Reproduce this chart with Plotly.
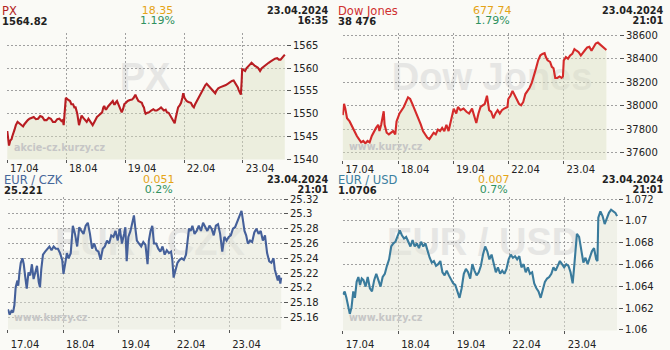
import plotly.graph_objects as go

W, H = 670, 350

# ---------------- data (time in trading days since 17.04 open) ----------------
day_labels = ["17.04", "18.04", "19.04", "22.04", "23.04"]
day_starts = [0, 1, 2, 3, 4]

px_t = [0.000,0.014,0.029,0.051,0.072,0.087,0.101,0.123,0.145,0.174,
        0.203,0.232,0.268,0.290,0.319,0.348,0.377,0.413,0.449,0.486,
        0.522,0.558,0.594,0.630,0.667,0.703,0.739,0.775,0.812,0.848,
        0.884,0.920,0.942,0.957,0.978,0.993,1.029,1.065,1.087,1.116,
        1.138,1.159,1.188,1.217,1.239,1.261,1.290,1.319,1.348,1.377,
        1.413,1.449,1.478,1.500,1.522,1.551,1.580,1.609,1.630,1.645,
        1.667,1.681,1.710,1.739,1.768,1.790,1.812,1.826,1.848,1.862,
        1.884,1.899,1.920,1.942,1.964,1.986,2.014,2.043,2.080,2.116,
        2.145,2.174,2.196,2.225,2.254,2.283,2.304,2.319,2.333,2.348,
        2.377,2.406,2.442,2.478,2.507,2.536,2.572,2.609,2.638,2.659,
        2.688,2.710,2.739,2.768,2.797,2.826,2.841,2.855,2.877,2.899,
        2.928,2.949,2.971,2.986,3.007,3.029,3.043,3.072,3.116,3.145,
        3.167,3.188,3.217,3.246,3.275,3.304,3.333,3.362,3.384,3.420,
        3.457,3.493,3.529,3.551,3.580,3.609,3.638,3.674,3.710,3.746,
        3.783,3.812,3.841,3.870,3.891,3.913,3.928,3.949,3.964,3.978,
        3.986,4.014,4.036,4.058,4.087,4.116,4.145,4.174,4.203,4.232,
        4.254,4.275,4.290,4.319,4.362,4.399,4.435,4.471,4.507,4.543,
        4.580,4.609,4.638,4.667,4.688,4.710]
px_v = [1546.2,1544.4,1543.0,1544.1,1544.4,1545.1,1545.5,1546.5,1547.5,1548.2,
        1547.9,1547.5,1547.2,1547.7,1548.2,1548.6,1548.9,1549.1,1549.3,1548.8,
        1548.9,1549.5,1549.3,1548.6,1548.6,1549.1,1548.9,1548.2,1548.2,1548.8,
        1548.9,1548.4,1548.6,1547.5,1550.3,1553.5,1553.1,1552.8,1552.1,1552.1,
        1551.4,1551.4,1550.0,1547.5,1548.6,1549.6,1549.1,1548.6,1548.2,1548.9,
        1548.2,1547.5,1548.2,1548.9,1549.3,1549.6,1550.0,1550.3,1551.4,1551.7,
        1551.0,1551.0,1551.6,1552.1,1552.4,1552.8,1552.1,1552.1,1552.6,1552.8,
        1552.1,1551.7,1551.0,1550.3,1551.0,1552.1,1552.4,1552.8,1553.0,1553.1,
        1553.5,1554.2,1553.5,1552.8,1552.6,1552.4,1551.7,1551.4,1550.5,1550.0,
        1550.2,1550.3,1550.7,1551.0,1550.7,1550.7,1551.0,1551.4,1551.0,1550.7,
        1550.9,1550.3,1550.2,1549.6,1548.9,1548.2,1547.9,1548.9,1550.2,1551.4,
        1551.9,1552.4,1553.5,1554.5,1553.5,1553.0,1552.8,1552.6,1552.4,1551.7,
        1551.4,1552.1,1552.8,1553.8,1554.5,1555.1,1555.6,1556.3,1556.6,1556.1,
        1555.6,1555.1,1554.5,1555.1,1555.6,1555.8,1555.9,1556.1,1556.3,1556.6,
        1557.0,1557.2,1557.3,1556.8,1556.3,1555.8,1555.2,1554.5,1554.2,1557.3,
        1559.8,1559.6,1559.4,1560.0,1560.5,1560.8,1561.2,1560.8,1560.5,1560.3,
        1560.1,1559.7,1559.4,1560.0,1560.5,1560.8,1561.2,1561.5,1561.9,1562.1,
        1562.2,1561.9,1561.9,1562.4,1562.6,1563.0]

dj_t = [0.000,0.023,0.046,0.077,0.124,0.154,0.201,0.255,0.293,0.332,
        0.371,0.409,0.448,0.486,0.525,0.564,0.602,0.641,0.664,0.695,
        0.741,0.757,0.795,0.834,0.873,0.911,0.950,0.973,1.027,1.104,
        1.181,1.220,1.259,1.297,1.336,1.375,1.413,1.452,1.490,1.529,
        1.568,1.606,1.645,1.683,1.722,1.761,1.799,1.838,1.876,1.915,
        1.954,1.977,2.008,2.054,2.085,2.131,2.185,2.239,2.286,2.340,
        2.378,2.417,2.456,2.494,2.533,2.571,2.610,2.649,2.687,2.726,
        2.764,2.803,2.842,2.880,2.919,2.981,2.996,3.035,3.073,3.112,
        3.151,3.189,3.228,3.266,3.305,3.344,3.382,3.421,3.459,3.498,
        3.537,3.575,3.614,3.653,3.676,3.707,3.753,3.784,3.815,3.846,
        3.884,3.923,3.961,3.985,4.000,4.039,4.077,4.116,4.154,4.193,
        4.232,4.270,4.309,4.347,4.386,4.425,4.463,4.502,4.541,4.579,
        4.618,4.656,4.695,4.734,4.772]
dj_v = [37920,38016,37975,37893,37866,37838,37784,37742,37715,37688,
        37701,37679,37701,37688,37742,37784,37811,37838,37784,37838,
        37953,37838,37770,37756,37770,37784,37756,37866,37934,37989,
        38071,38057,38016,37975,37934,37893,37838,37784,37756,37729,
        37715,37742,37770,37756,37797,37784,37811,37784,37838,37784,
        37866,37934,37975,37934,37989,37962,37975,37948,37934,37975,
        37907,37852,37934,37989,38003,38016,38085,37962,37948,37893,
        37934,37962,37934,37962,37975,37989,38057,38085,38126,38085,
        38044,38016,38003,38030,38099,38126,38153,38194,38249,38318,
        38386,38427,38441,38447,38414,38386,38373,38331,38318,38236,
        38236,38249,38236,38249,38386,38414,38400,38427,38441,38482,
        38468,38455,38427,38455,38474,38496,38501,38468,38496,38529,
        38537,38523,38510,38490,38474]

czk_t = [0.000,0.031,0.062,0.092,0.116,0.139,0.170,0.185,0.208,0.231,
         0.262,0.285,0.308,0.339,0.370,0.401,0.432,0.462,0.493,0.524,
         0.555,0.578,0.601,0.632,0.671,0.709,0.748,0.786,0.825,0.863,
         0.902,0.940,0.979,1.002,1.033,1.064,1.094,1.133,1.171,1.210,
         1.249,1.287,1.326,1.364,1.403,1.441,1.480,1.518,1.557,1.595,
         1.634,1.672,1.711,1.749,1.788,1.827,1.865,1.904,1.942,1.981,
         2.019,2.058,2.096,2.119,2.143,2.173,2.212,2.250,2.274,2.297,
         2.327,2.366,2.405,2.443,2.482,2.520,2.543,2.574,2.605,2.636,
         2.674,2.713,2.751,2.790,2.829,2.867,2.906,2.944,2.967,2.990,
         3.021,3.060,3.098,3.137,3.175,3.214,3.237,3.268,3.299,3.329,
         3.368,3.406,3.445,3.484,3.522,3.561,3.599,3.638,3.676,3.715,
         3.753,3.792,3.830,3.869,3.907,3.946,3.985,4.023,4.062,4.100,
         4.139,4.177,4.216,4.239,4.270,4.300,4.331,4.370,4.408,4.447,
         4.485,4.524,4.563,4.601,4.640,4.678,4.717,4.755,4.794,4.817,
         4.840,4.871,4.894,4.917,4.932]
czk_v = [25.171,25.164,25.169,25.167,25.177,25.201,25.210,25.203,25.221,25.234,
         25.240,25.232,25.217,25.199,25.221,25.217,25.232,25.212,25.221,25.230,
         25.208,25.201,25.225,25.245,25.249,25.253,25.256,25.251,25.256,25.253,
         25.253,25.247,25.238,25.219,25.234,25.247,25.240,25.247,25.284,25.273,
         25.256,25.282,25.277,25.273,25.284,25.288,25.273,25.253,25.260,25.251,
         25.249,25.238,25.253,25.256,25.264,25.260,25.271,25.269,25.277,25.264,
         25.280,25.260,25.273,25.282,25.236,25.269,25.277,25.288,25.298,25.282,
         25.264,25.260,25.256,25.262,25.258,25.232,25.264,25.277,25.284,25.260,
         25.260,25.253,25.249,25.256,25.245,25.251,25.247,25.249,25.238,25.214,
         25.225,25.234,25.238,25.240,25.238,25.245,25.260,25.280,25.277,25.284,
         25.273,25.277,25.284,25.277,25.288,25.282,25.277,25.284,25.280,25.271,
         25.284,25.286,25.273,25.249,25.269,25.264,25.269,25.271,25.280,25.282,
         25.290,25.297,25.304,25.293,25.277,25.271,25.260,25.264,25.262,25.275,
         25.280,25.273,25.277,25.264,25.271,25.247,25.236,25.234,25.240,25.225,
         25.217,25.210,25.217,25.206,25.214]

usd_t = [0.000,0.031,0.062,0.092,0.123,0.154,0.185,0.215,0.246,0.277,
         0.308,0.338,0.369,0.408,0.446,0.485,0.523,0.562,0.600,0.638,
         0.677,0.715,0.754,0.792,0.831,0.869,0.908,0.946,0.985,1.023,
         1.062,1.100,1.138,1.177,1.215,1.254,1.292,1.331,1.369,1.408,
         1.446,1.485,1.523,1.562,1.600,1.638,1.677,1.715,1.754,1.792,
         1.831,1.869,1.908,1.946,1.985,2.023,2.062,2.100,2.138,2.177,
         2.215,2.254,2.292,2.331,2.369,2.408,2.446,2.485,2.523,2.562,
         2.600,2.638,2.677,2.715,2.754,2.792,2.831,2.869,2.908,2.946,
         2.985,3.023,3.062,3.100,3.138,3.177,3.215,3.254,3.292,3.331,
         3.369,3.408,3.446,3.485,3.523,3.562,3.600,3.638,3.677,3.715,
         3.754,3.792,3.831,3.869,3.908,3.946,3.985,4.023,4.062,4.100,
         4.138,4.162,4.192,4.215,4.254,4.292,4.331,4.369,4.408,4.446,
         4.485,4.523,4.562,4.585,4.600,4.638,4.677,4.715,4.754,4.792,
         4.831,4.869,4.908,4.938]
usd_v = [1.06324,1.06353,1.06294,1.06221,1.06147,1.06206,1.06353,1.06294,1.06441,1.06485,
         1.06412,1.06471,1.06456,1.06397,1.06485,1.06382,1.06353,1.06456,1.06515,1.06456,
         1.06397,1.06485,1.06515,1.06588,1.06647,1.06765,1.06794,1.06809,1.06868,1.06912,
         1.06868,1.06838,1.06853,1.06809,1.06765,1.06824,1.06765,1.06794,1.06750,1.06809,
         1.06765,1.06794,1.06721,1.06662,1.06618,1.06632,1.06588,1.06603,1.06632,1.06529,
         1.06500,1.06544,1.06500,1.06456,1.06427,1.06412,1.06353,1.06294,1.06382,1.06515,
         1.06559,1.06529,1.06471,1.06603,1.06544,1.06500,1.06529,1.06588,1.06691,1.06765,
         1.06721,1.06647,1.06691,1.06603,1.06529,1.06574,1.06515,1.06544,1.06515,1.06559,
         1.06647,1.06691,1.06662,1.06676,1.06647,1.06676,1.06574,1.06603,1.06529,1.06574,
         1.06515,1.06529,1.06427,1.06382,1.06353,1.06294,1.06368,1.06441,1.06471,1.06485,
         1.06515,1.06574,1.06544,1.06588,1.06632,1.06603,1.06574,1.06603,1.06588,1.06529,
         1.06427,1.06559,1.06765,1.06882,1.06853,1.06735,1.06618,1.06662,1.06603,1.06662,
         1.06721,1.06750,1.06647,1.06632,1.07029,1.07088,1.07044,1.06971,1.07029,1.07074,
         1.07103,1.07088,1.07074,1.07044]

px_ticks = [1540, 1545, 1550, 1555, 1560, 1565]
dj_ticks = [37600, 37800, 38000, 38200, 38400, 38600]
czk_ticks = [25.16, 25.18, 25.20, 25.22, 25.24, 25.26, 25.28, 25.30, 25.32]
usd_ticks = [1.060, 1.062, 1.064, 1.066, 1.068, 1.070, 1.072]

# header texts: name, last, change, pct, date, time
headers = [
    ("PX", "1564.82", "18.35", "1.19%", "23.04.2024", "16:35"),
    ("Dow Jones", "38 476", "677.74", "1.79%", "23.04.2024", "21:01"),
    ("EUR / CZK", "25.221", "0.051", "0.2%", "23.04.2024", "21:01"),
    ("EUR / USD", "1.0706", "0.007", "0.7%", "23.04.2024", "21:01"),
]

# ---------------- styling / layout ----------------
FONT = "Verdana, 'DejaVu Sans', sans-serif"
BG = "#fafaf6"
DARK = "#222222"
ORANGE = "#e5a417"
GREEN = "#2f9160"
GRID = "#a0a0a0"

panels = [
    dict(t=px_t, v=px_v, ticks=px_ticks, line="#b81d22", name_col="#b41e23",
         fill="rgba(220,225,194,0.45)", box=(7, 286, 30, 161),
         xr=(-0.005, 4.73), yr=(1539.95, 1567.75), standoff=-3,
         mark="PX", mark_at=(0.495, 0.687), site="akcie-cz.kurzy.cz", site_at=(12.5, 148.5),
         head=(1, 157.5, 330, 11.5)),
    dict(t=dj_t, v=dj_v, ticks=dj_ticks, line="#d42a2a", name_col="#d03030",
         fill="rgba(220,225,194,0.45)", box=(342.5, 619, 30, 161.5),
         xr=(-0.005, 5.0), yr=(37538, 38619), standoff=-3,
         mark="Dow Jones", mark_at=(0.541, 0.687), site="www.kurzy.cz", site_at=(348, 147.5),
         head=(337.5, 492.5, 665, 11.5)),
    dict(t=czk_t, v=czk_v, ticks=czk_ticks, line="#45609a", name_col="#46679a",
         fill="rgba(228,230,216,0.45)", box=(7.7, 283, 200, 337),
         xr=(-0.005, 4.965), yr=(25.144, 25.3226), standoff=3,
         mark="EUR / CZK", mark_at=(0.517, 0.693), site="www.kurzy.cz", site_at=(13, 324.5),
         head=(2.5, 158.5, 330, 186.5)),
    dict(t=usd_t, v=usd_v, ticks=usd_ticks, line="#3a7b9c", name_col="#3b7fa0",
         fill="rgba(228,230,216,0.45)", box=(342.7, 618, 200, 338),
         xr=(-0.005, 4.955), yr=(1.05995, 1.07218), standoff=2,
         mark="EUR / USD", mark_at=(0.510, 0.696), site="www.kurzy.cz", site_at=(348, 325),
         head=(337.5, 493.5, 665, 186.5)),
]


def fx(p):
    return p / W


def fy(p):
    return 1 - p / H


def span(txt, size, color, bold=False):
    w = "bold" if bold else "normal"
    return f"<span style='font-size:{size}px;color:{color};font-weight:{w}'>{txt}</span>"


fig = go.Figure()
annotations = []
shapes = []
layout = {}

for i, (p, hd) in enumerate(zip(panels, headers)):
    n = "" if i == 0 else str(i + 1)
    xa, ya = "x" + n, "y" + n
    l, r, t, b = p["box"]

    fig.add_trace(go.Scatter(
        x=p["t"], y=p["v"], xaxis=xa, yaxis=ya, mode="lines",
        line=dict(color=p["line"], width=2.1), fill="tozeroy",
        fillcolor=p["fill"], hoverinfo="skip", showlegend=False))

    layout["xaxis" + n] = dict(
        domain=[fx(l), fx(r)], anchor=ya, range=list(p["xr"]),
        tickvals=day_starts, ticktext=day_labels, ticks="outside", ticklen=3,
        tickcolor="#555", ticklabelshift=17, ticklabelstandoff=p["standoff"],
        tickfont=dict(family=FONT, size=10, color=DARK),
        showgrid=True, gridcolor=GRID, griddash="2px,2px", gridwidth=1,
        zeroline=False, showline=False, fixedrange=True)
    layout["yaxis" + n] = dict(
        domain=[fy(b), fy(t)], anchor=xa, side="right", range=list(p["yr"]),
        tickvals=p["ticks"], ticktext=[f"{round(v, 3):g}" for v in p["ticks"]],
        ticks="outside", ticklen=4, tickcolor="#555",
        tickfont=dict(family=FONT, size=10, color=DARK),
        showgrid=True, gridcolor=GRID, griddash="2px,2px", gridwidth=1,
        zeroline=False, showline=False, fixedrange=True)

    # large watermark behind the traces
    cx, cy = p["mark_at"]
    shapes.append(dict(
        type="rect", xref=xa + " domain", yref=ya + " domain",
        x0=cx - 0.3, x1=cx + 0.3, y0=cy - 0.15, y1=cy + 0.15,
        line=dict(width=0), fillcolor="rgba(0,0,0,0)", layer="below",
        label=dict(text=p["mark"], textposition="middle center",
                   font=dict(family="'Liberation Sans', Arial, sans-serif",
                             size=38, color="#e6e6e4", weight="bold"))))

    # small site watermark
    sx, sy = p["site_at"]
    annotations.append(dict(
        text=p["site"], x=fx(sx), y=fy(sy), xref="paper", yref="paper",
        xanchor="left", yanchor="middle", showarrow=False, borderpad=0,
        font=dict(family=FONT, size=9.6, color="#c6c6c6", weight="bold")))

    # header: three two-line blocks (base size 7.7px -> 10px line pitch)
    hl, hc, hr, ym = p["head"]
    name, last, chg, pct, date, tm = hd
    blocks = [
        (hl, "left", span(name, 11.5, p["name_col"]) + "<br>" + span(last, 10, DARK, True)),
        (hc, "center", span(chg, 11, ORANGE) + "<br>" + span(pct, 11, GREEN)),
        (hr, "right", span(date, 9.7, DARK, True) + "<br>" + span(tm, 9.7, DARK, True)),
    ]
    for x, anc, txt in blocks:
        annotations.append(dict(
            text=txt, x=fx(x), y=fy(ym), xref="paper", yref="paper",
            xanchor=anc, yanchor="middle", align=anc, showarrow=False, borderpad=0,
            font=dict(family=FONT, size=7.7, color=DARK)))

fig.update_layout(
    width=W, height=H, margin=dict(l=0, r=0, t=0, b=0), autosize=False,
    paper_bgcolor=BG, plot_bgcolor=BG, showlegend=False,
    annotations=annotations, shapes=shapes, **layout)

fig.write_html("out.html", config={"displayModeBar": False, "staticPlot": True})
